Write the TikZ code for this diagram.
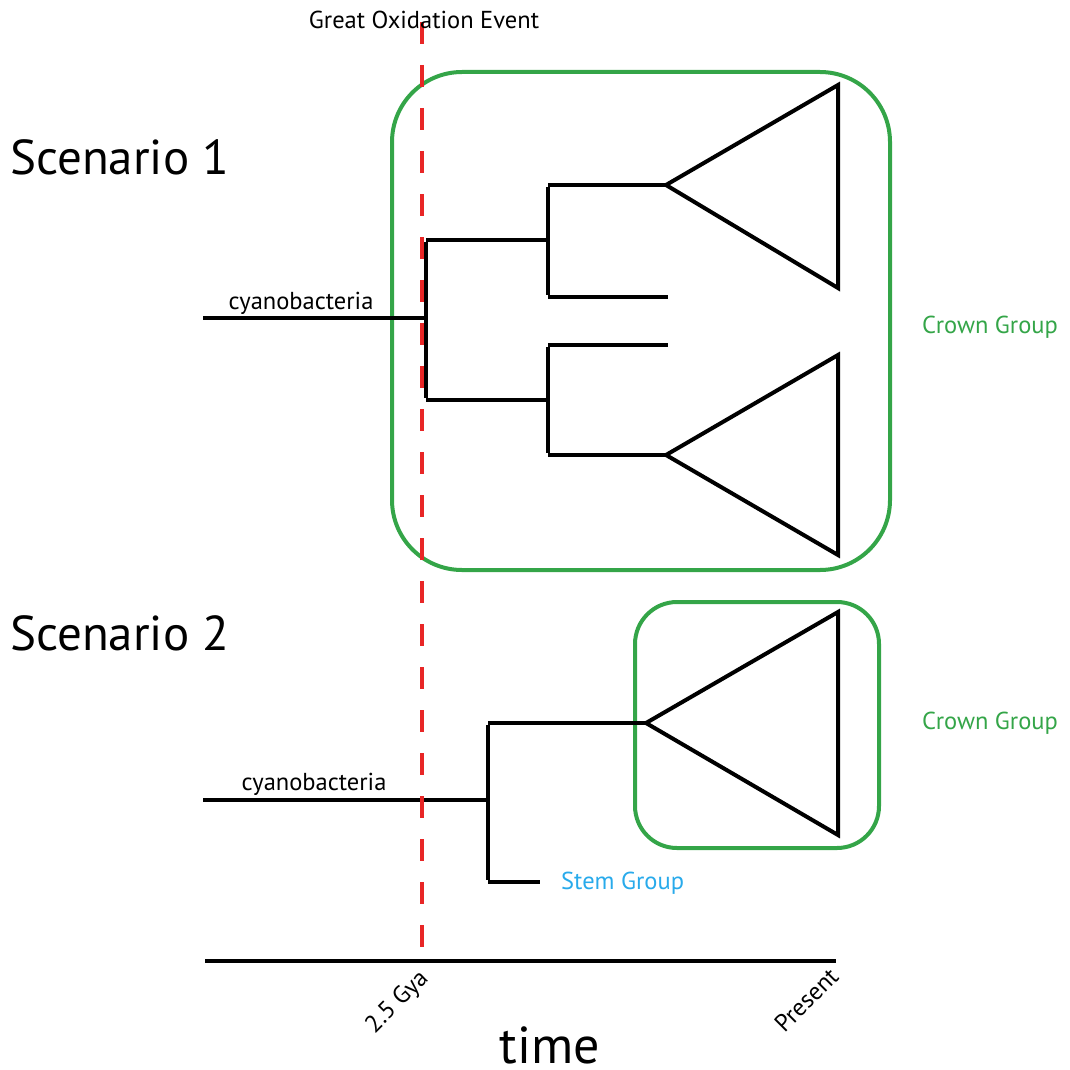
\documentclass[tikz,border=0pt]{standalone}
\usepackage{fontspec}
\setmainfont{PT Sans}
\begin{document}
\begin{tikzpicture}[x=1pt,y=-1pt,
  br/.style={line width=4pt,black},
  grp/.style={line width=4pt,draw=groupgreen},
  lbl/.style={inner sep=0pt,font=\fontsize{24.5}{28}\selectfont},
  big/.style={inner sep=0pt,font=\fontsize{49}{56}\selectfont}]
\definecolor{groupgreen}{RGB}{52,165,72}
\definecolor{oxred}{RGB}{232,38,38}
\definecolor{stemblue}{RGB}{40,170,235}
\useasboundingbox (0,0) rectangle (1070,1070);
% green boxes
\draw[grp,rounded corners=70pt] (392,72) rectangle (890,570);
\draw[grp,rounded corners=42pt] (635,602) rectangle (879,848);
% scenario 1 tree
\coordinate (r1) at (203,318);
\coordinate (n1) at (426,318);
\coordinate (n1t) at (426,240);
\coordinate (n1b) at (426,400);
\coordinate (a) at (548,240);
\coordinate (at) at (548,185);
\coordinate (ab) at (548,297);
\coordinate (tp1) at (666,185);
\coordinate (tip2) at (668,297);
\coordinate (b) at (548,400);
\coordinate (bt) at (548,345);
\coordinate (bb) at (548,455);
\coordinate (tip3) at (668,345);
\coordinate (tp2) at (666,455);
\draw[br] (r1) -- (n1);
\draw[br] ([yshift=-2pt]n1t) -- ([yshift=2pt]n1b);
\draw[br] (n1t) -- (a);
\draw[br] (n1b) -- (b);
\draw[br] ([yshift=-2pt]at) -- ([yshift=2pt]ab);
\draw[br] ([yshift=-2pt]bt) -- ([yshift=2pt]bb);
\draw[br] (at) -- (tp1);
\draw[br] (ab) -- (tip2);
\draw[br] (bt) -- (tip3);
\draw[br] (bb) -- (tp2);
\draw[br,line join=miter] (tp1) -- (838,85) -- (838,288) -- cycle;
\draw[br,line join=miter] (tp2) -- (838,355) -- (838,555) -- cycle;
% scenario 2 tree
\coordinate (r2) at (203,800);
\coordinate (n2) at (488,800);
\coordinate (n2t) at (488,723);
\coordinate (n2b) at (488,882);
\coordinate (tp3) at (646,723);
\coordinate (stem) at (540,882);
\draw[br] (r2) -- (n2);
\draw[br] ([yshift=-2pt]n2t) -- ([yshift=2pt]n2b);
\draw[br] (n2t) -- (tp3);
\draw[br] (n2b) -- (stem);
\draw[br,line join=miter] (tp3) -- (838,612) -- (838,835) -- cycle;
% timeline
\coordinate (t0) at (205,961);
\coordinate (t1) at (836,961);
\draw[br] (t0) -- (t1);
% red dashed line
\coordinate (g0) at (422,22);
\coordinate (g1) at (422,960);
\draw[line width=4pt,oxred,dash pattern=on 22pt off 21pt] (g0) -- (g1);
% labels
\node[lbl,anchor=base] (goe) at (424,29) {Great Oxidation Event};
\node[lbl,anchor=base] (c1) at (301,309) {cyanobacteria};
\node[lbl,anchor=base] (c2) at (314,790) {cyanobacteria};
\node[lbl,anchor=base west,text=groupgreen] (cg1) at (922,333) {Crown Group};
\node[lbl,anchor=base west,text=groupgreen] (cg2) at (922,729) {Crown Group};
\node[lbl,anchor=base west,text=stemblue] (sg) at (561,889) {Stem Group};
\node[big,anchor=base west] (s1) at (10,174) {Scenario 1};
\node[big,anchor=base west] (s2) at (10,650) {Scenario 2};
\node[lbl,anchor=east,rotate=45] (gya) at (425,975) {2.5 Gya};
\node[lbl,anchor=east,rotate=45] (pres) at (834,972) {Present};
\node[font=\fontsize{52}{58}\selectfont,inner sep=0pt,anchor=base] (time) at (550,1063) {time};
\end{tikzpicture}
\end{document}
